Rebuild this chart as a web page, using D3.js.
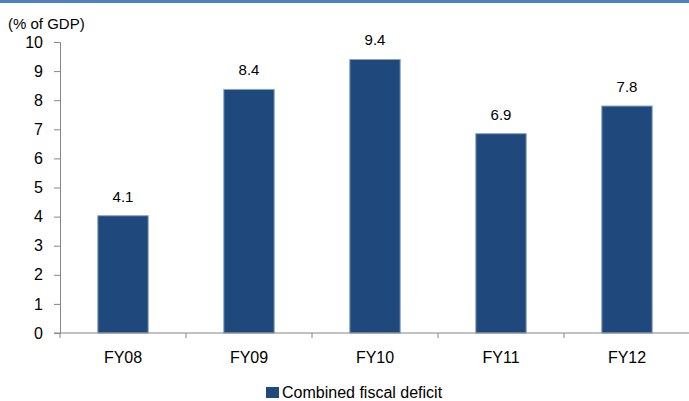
<!DOCTYPE html>
<html>
<head>
<meta charset="utf-8">
<script src="https://cdn.jsdelivr.net/npm/d3@7"></script>
<style>
  body { margin: 0; background: #fff; }
  text { font-family: "Liberation Sans", Arial, sans-serif; fill: #000; }
</style>
</head>
<body>
<div class="chart"></div>
<script>
var categories = ["FY08", "FY09", "FY10", "FY11", "FY12"];
// bar heights as drawn, and the labels printed over them
var deficit = [4.03, 8.37, 9.4, 6.85, 7.8];
var deficitLabels = ["4.1", "8.4", "9.4", "6.9", "7.8"];
var yTicks = [0, 1, 2, 3, 4, 5, 6, 7, 8, 9, 10];
var seriesName = "Combined fiscal deficit";

var svgWidth = 689;
var svgHeight = 401;

var margin = { top: 42, right: -1, bottom: 68, left: 60 };
var width = svgWidth - margin.left - margin.right;
var height = svgHeight - margin.top - margin.bottom;

var svg = d3.select(".chart")
  .append("svg")
  .attr("width", svgWidth)
  .attr("height", svgHeight);

// blue rule across the top
svg.append("rect")
  .attr("x", 0).attr("y", 0)
  .attr("width", svgWidth).attr("height", 3)
  .attr("fill", "#4f81bd");

var chartGroup = svg.append("g")
  .attr("transform", `translate(${margin.left}, ${margin.top})`);

var xScale = d3.scaleBand()
  .domain(categories)
  .range([0, width])
  .paddingInner(0.6)
  .paddingOuter(0.3);

var yScale = d3.scaleLinear()
  .domain([0, 10])
  .range([height, 0]);

// bars
chartGroup.selectAll("rect.bar")
  .data(deficit)
  .enter()
  .append("rect")
  .attr("class", "bar")
  .attr("x", (d, i) => xScale(categories[i]))
  .attr("y", d => yScale(d))
  .attr("width", xScale.bandwidth())
  .attr("height", d => height - yScale(d))
  .attr("fill", "#1f497d")
  .attr("stroke", "#8aa4c4")
  .attr("stroke-width", 1);

// value labels
chartGroup.selectAll("text.val")
  .data(deficit)
  .enter()
  .append("text")
  .attr("class", "val")
  .attr("x", (d, i) => xScale(categories[i]) + xScale.bandwidth() / 2)
  .attr("y", d => yScale(d) - 14)
  .attr("text-anchor", "middle")
  .style("font-size", "15px")
  .text((d, i) => deficitLabels[i]);

// y axis
var leftAxis = d3.axisLeft(yScale)
  .tickValues(yTicks)
  .tickSize(6)
  .tickPadding(11)
  .tickFormat(d3.format("d"));

var yAxis = chartGroup.append("g").call(leftAxis);
yAxis.select(".domain").attr("stroke", "#868686");
yAxis.selectAll(".tick line").attr("stroke", "#868686");
yAxis.selectAll(".tick text").style("font-size", "16px").attr("fill", "#000");

// x axis with ticks at band edges
var xAxisG = chartGroup.append("g")
  .attr("transform", `translate(0, ${height})`);

xAxisG.append("line")
  .attr("x1", -6).attr("x2", width)
  .attr("y1", 0).attr("y2", 0)
  .attr("stroke", "#868686");

var step = xScale.step();
var edges = categories.map(c => xScale(c) - xScale.paddingOuter() * step);
xAxisG.selectAll("line.edge")
  .data(edges)
  .enter()
  .append("line")
  .attr("class", "edge")
  .attr("x1", d => d).attr("x2", d => d)
  .attr("y1", 0).attr("y2", 5)
  .attr("stroke", "#868686");

xAxisG.selectAll("text.cat")
  .data(categories)
  .enter()
  .append("text")
  .attr("class", "cat")
  .attr("x", d => xScale(d) + xScale.bandwidth() / 2)
  .attr("y", 30)
  .attr("text-anchor", "middle")
  .style("font-size", "16px")
  .text(d => d);

// y axis title
svg.append("text")
  .attr("x", 8)
  .attr("y", 29)
  .style("font-size", "15px")
  .text("(% of GDP)");

// legend
var legend = svg.append("g")
  .attr("transform", "translate(266, 387)");
legend.append("rect")
  .attr("width", 13).attr("height", 11)
  .attr("fill", "#1f497d");
legend.append("text")
  .attr("x", 16)
  .attr("y", 11)
  .style("font-size", "16px")
  .text(seriesName);
</script>
</body>
</html>
